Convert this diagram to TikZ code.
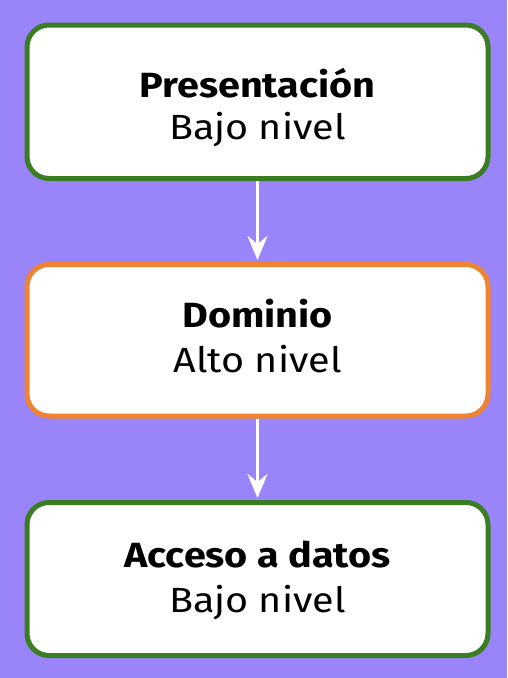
\documentclass[tikz,border=0pt]{standalone}
\usepackage{fontspec}
\setmainfont{Fira Sans}[FakeStretch=1.13]
\usetikzlibrary{arrows.meta}
\definecolor{bgpurple}{HTML}{9A84F9}
\definecolor{boxgreen}{HTML}{3A7D22}
\definecolor{boxorange}{HTML}{EE8332}
\tikzset{
  layer/.style={draw, fill=white, line width=5pt, rounded corners=22pt,
    minimum width=461pt, inner sep=0pt},
  titletext/.style={anchor=base, inner sep=0pt, font=\fontsize{35}{42}\selectfont\bfseries},
  subtext/.style={anchor=base, inner sep=0pt, font=\fontsize{35}{42}\selectfont},
  conn/.style={draw=white, line width=3.5pt, shorten >=2pt,
    -{Stealth[length=24pt,width=20pt,inset=8pt]}}
}
\begin{document}
\begin{tikzpicture}[x=1pt,y=-1pt]
\fill[bgpurple] (0,0) rectangle (507,678);
\useasboundingbox (0,0) rectangle (507,678);
\node[layer, draw=boxgreen, minimum height=153.5pt] (pres) at (257.5,101.75) {};
\node[layer, draw=boxorange, minimum height=151.5pt] (dom) at (257.5,340.25) {};
\node[layer, draw=boxgreen, minimum height=153pt] (acc) at (257.5,579) {};
\node[titletext] (presT) at (257.5,97) {Presentación};
\node[subtext] (presS) at (257.5,139) {Bajo nivel};
\node[titletext] (domT) at (257.5,327) {Dominio};
\node[subtext] (domS) at (257.5,372) {Alto nivel};
\node[titletext] (accT) at (257.5,567) {Acceso a datos};
\node[subtext] (accS) at (257.5,612) {Bajo nivel};
\draw[conn] (pres.south) -- (dom.north);
\draw[conn] (dom.south) -- (acc.north);
\end{tikzpicture}
\end{document}
